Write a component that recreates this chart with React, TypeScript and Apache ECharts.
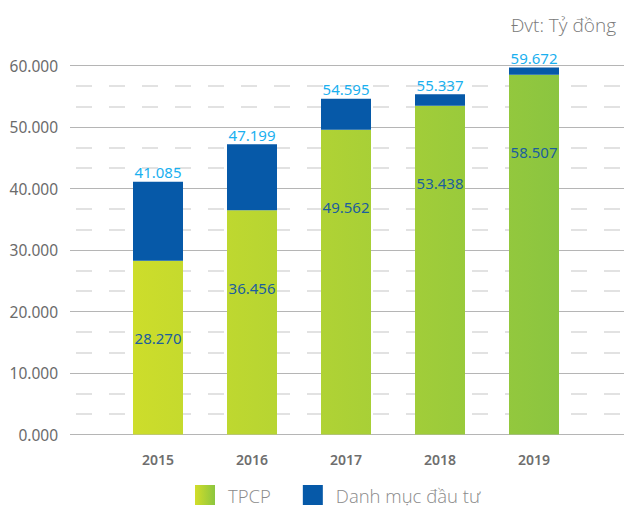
import React, { useEffect, useRef } from "react";
import * as echarts from "echarts";

const years = ["2015", "2016", "2017", "2018", "2019"];
const tpcp = [28270, 36456, 49562, 53438, 58507];
const totals = [41085, 47199, 54595, 55337, 59672];
const danhMuc = totals.map((t, i) => t - tpcp[i]);
const seriesNames = ["TPCP", "Danh mục đầu tư"];
const unitTitle = "Đvt: Tỷ đồng";

const fmt = (v: number) => (v / 1000).toFixed(3);

export default function App() {
  const ref = useRef<HTMLDivElement>(null);
  useEffect(() => {
    if (!ref.current) return;
    const chart = echarts.init(ref.current, null, { renderer: "svg" });
    const greenGlobal = new echarts.graphic.LinearGradient(133, 0, 559, 0, [
      { offset: 0, color: "#cddd2b" },
      { offset: 1, color: "#8bc540" },
    ], true);
    const greenLocal = new echarts.graphic.LinearGradient(0, 0, 1, 0, [
      { offset: 0, color: "#d2dd29" },
      { offset: 1, color: "#8cc63f" },
    ]);
    const top = 65.5;
    const bottom = 75.5;
    chart.setOption({
      animation: false,
      backgroundColor: "#ffffff",
      textStyle: { fontFamily: "Noto Sans" },
      title: {
        text: unitTitle,
        right: 3,
        top: 10,
        textStyle: { fontSize: 19, fontWeight: 300, color: "#7a7a7a", fontFamily: "Open Sans" },
      },
      legend: {
        left: 190,
        top: 480,
        itemWidth: 20,
        itemHeight: 20,
        itemGap: 32,
        icon: "rect",
        data: [
          { name: seriesNames[0], itemStyle: { color: greenLocal } },
          { name: seriesNames[1], itemStyle: { color: "#0659a8" } },
        ],
        textStyle: {
          fontSize: 18.5,
          fontWeight: 300,
          color: "#8a8a8a",
          fontFamily: "Open Sans",
          padding: [0, 0, 0, 8],
        },
      },
      grid: [
        { left: 70, right: 0, top, bottom },
        { left: 111, right: 43, top, bottom },
      ],
      xAxis: [
        { type: "value", gridIndex: 0, show: false, min: 0, max: 1 },
        {
          type: "category",
          gridIndex: 1,
          data: years,
          axisLine: { show: false },
          axisTick: { show: false },
          axisLabel: { color: "#6e6e6e", fontSize: 14, fontWeight: 600, margin: 18 },
        },
      ],
      yAxis: [
        {
          type: "value",
          gridIndex: 0,
          min: 0,
          max: 60000,
          interval: 10000,
          axisLine: { show: false },
          axisTick: { show: false },
          axisLabel: {
            formatter: fmt,
            color: "#6b6b6b",
            fontSize: 15.5,
            margin: 12,
            padding: [0, 0, 10, 0],
          },
          splitLine: { show: true, lineStyle: { color: "#b5b5b5", width: 1.2 } },
          minorTick: { show: false, splitNumber: 3 },
          minorSplitLine: {
            show: true,
            lineStyle: { color: "#d9d9d9", width: 1.5, type: [16, 17], dashOffset: -6 },
          },
        },
        { type: "value", gridIndex: 1, min: 0, max: 60000, show: false, splitLine: { show: false } },
      ],
      series: [
        {
          name: seriesNames[0],
          type: "bar",
          stack: "total",
          xAxisIndex: 1,
          yAxisIndex: 1,
          barWidth: 50,
          data: tpcp,
          itemStyle: { color: greenGlobal },
          label: {
            show: true,
            position: "insideTop",
            offset: [0, 65],
            formatter: (p: any) => fmt(p.value),
            color: "#1b5e9e",
            fontSize: 15,
          },
        },
        {
          name: seriesNames[1],
          type: "bar",
          stack: "total",
          xAxisIndex: 1,
          yAxisIndex: 1,
          barWidth: 50,
          data: danhMuc,
          itemStyle: { color: "#0659a8" },
          label: {
            show: true,
            position: "top",
            distance: 2,
            formatter: (p: any) => fmt(totals[p.dataIndex]),
            color: "#1ab0ef",
            fontSize: 15,
          },
        },
      ],
    });
    return () => chart.dispose();
  }, []);
  return (
    <div
      ref={ref}
      style={{ position: "fixed", left: 0, top: 0, width: 624, height: 510 }}
    />
  );
}
